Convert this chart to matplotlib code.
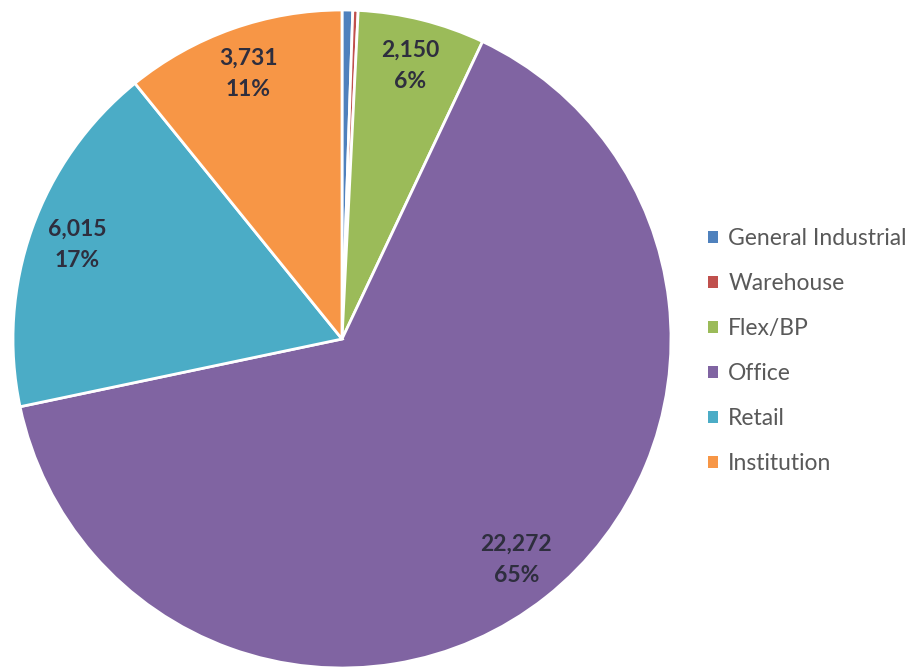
import matplotlib.pyplot as plt
from matplotlib.patches import Patch

# Building space by type (sq ft, thousands)
categories = ['General Industrial', 'Warehouse', 'Flex/BP', 'Office', 'Retail', 'Institution']
values = [180, 90, 2150, 22272, 6015, 3731]
colors = ['#4F81BD', '#C0504D', '#9BBB59', '#8064A2', '#4BACC6', '#F79646']
labeled = [False, False, True, True, True, True]

plt.rcParams['font.family'] = ['Lato', 'DejaVu Sans']

fig = plt.figure(figsize=(9.13, 6.69), dpi=100)
W, H = 913, 669
cx, cy, r = 342, 339, 329
ax = fig.add_axes([(cx - r) / W, (H - cy - r) / H, 2 * r / W, 2 * r / H])

total = sum(values)
value_iter = iter(zip(values, labeled))


def fmt(pct):
    v, show = next(value_iter)
    if not show:
        return ''
    return f'{v:,}\n{round(v / total * 100):.0f}%'


wedges, texts, autotexts = ax.pie(
    values, colors=colors, startangle=90, counterclock=False,
    autopct=fmt, pctdistance=0.855, radius=1.0,
    wedgeprops=dict(edgecolor='white', linewidth=2),
    textprops=dict(fontsize=16.5, fontweight='bold', color='#2E2E3E', linespacing=1.6),
)
ax.set_xlim(-1.0, 1.0)
ax.set_ylim(-1.0, 1.0)
ax.set_aspect('equal')
ax.axis('off')

handles = [Patch(facecolor=c, edgecolor='none') for c in colors]
fig.legend(handles, categories, loc='center left', bbox_to_anchor=(687 / W, 1 - 351 / H),
           frameon=False, fontsize=16.5, labelcolor='#595959',
           handlelength=0.45, handleheight=0.45, handletextpad=0.45, labelspacing=1.05)

fig.savefig('out.png', dpi=100)
